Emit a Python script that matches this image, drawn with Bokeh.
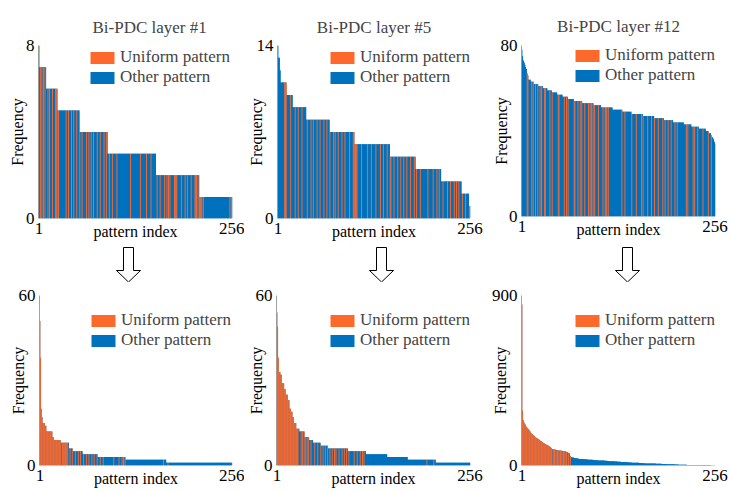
from bokeh.plotting import figure
from bokeh.layouts import column, row
from bokeh.models import Range1d, FixedTicker, Legend, LegendItem, ColumnDataSource
from bokeh.embed import file_html
from bokeh.resources import INLINE

# ---------------- data (run-length: (frequency, number of patterns)) ----------------
N_PATTERNS = 256
X_TICKS = [1, 256]

l1_before = [(8, 1), (7, 9), (6, 15), (5, 29), (4, 37), (3, 64), (2, 57), (1, 44)]
l1_before_uniform = [3, 5, 7, 9, 13, 15, 19, 23, 24, 25, 27, 37, 40, 44, 47, 51, 55, 58, 64, 67,
                     70, 73, 78, 82, 87, 90, 94, 98, 104, 122, 135, 143, 149, 157, 161, 167, 170,
                     172, 174, 180, 181, 182, 183, 189, 194, 197, 202, 207, 208, 209, 211, 213,
                     214, 215, 216, 218, 253, 255]

l5_before = [(14, 1), (13, 2), (12, 1), (11, 8), (10, 8), (9, 18), (8, 31), (7, 33), (6, 47),
             (5, 34), (4, 34), (3, 27), (2, 10), (1, 2)]
l5_before_uniform = [10, 11, 12, 18, 24, 28, 33, 40, 45, 48, 53, 57, 62, 66, 70, 75, 77, 81, 86,
                     90, 96, 101, 102, 103, 104, 105, 106, 112, 120, 125, 131, 137, 141, 146, 150,
                     151, 155, 160, 164, 168, 172, 177, 182, 185, 190, 200, 207, 212, 215, 220,
                     226, 230, 235, 238, 241, 246, 250, 255]

l12_before = [(78, 1), (75, 1), (73, 1), (72, 1), (71, 1), (70, 1), (69, 1), (67, 1), (66, 1),
              (64, 3), (63, 4), (62, 6), (61, 6), (60, 6), (59, 6), (58, 7), (57, 7), (56, 7),
              (55, 8), (54, 11), (53, 15), (52, 10), (51, 15), (50, 13), (49, 12), (48, 15),
              (47, 15), (46, 13), (45, 12), (44, 14), (43, 10), (42, 10), (41, 9), (40, 4),
              (39, 3), (38, 1), (37, 2), (36, 1), (35, 1), (34, 1)]
l12_before_uniform = [8, 9, 14, 16, 19, 22, 25, 27, 31, 32, 38, 41, 49, 50, 57, 60, 62, 70, 71,
                      75, 78, 80, 84, 89, 91, 93, 95, 97, 102, 108, 111, 112, 113, 115, 133, 137,
                      146, 152, 159, 161, 167, 172, 176, 181, 187, 190, 194, 198, 203, 206, 218,
                      220, 227, 229, 233, 240, 247, 251]

l1_after = [(51, 1), (38, 1), (20, 1), (17, 1), (15, 3), (14, 2), (12, 8), (10, 2), (9, 9),
            (8, 11), (6, 5), (5, 13), (4, 20), (3, 37), (2, 54), (1, 88)]
l1_after_uniform = [1, 2, 3, 4, 5, 6, 7, 8, 9, 10, 11, 12, 13, 14, 15, 16, 17, 18, 19, 20, 21,
                    22, 23, 24, 25, 26, 27, 28, 29, 31, 32, 33, 34, 35, 36, 37, 38, 41, 44, 48,
                    52, 55, 59, 63, 66, 70, 73, 77, 81, 85, 99, 106, 110, 112, 114, 165, 171, 256]

l5_after = [(54, 1), (49, 1), (38, 1), (33, 2), (32, 2), (29, 3), (27, 2), (25, 3), (23, 2),
            (20, 2), (19, 2), (17, 2), (15, 3), (13, 4), (12, 7), (10, 6), (9, 5), (8, 10),
            (7, 10), (6, 26), (5, 24), (4, 28), (3, 27), (2, 37), (1, 46)]
l5_after_uniform = [1, 2, 3, 4, 5, 6, 7, 8, 9, 10, 11, 12, 13, 14, 15, 16, 17, 18, 19, 20, 21,
                    22, 23, 24, 25, 26, 27, 28, 29, 33, 35, 37, 39, 41, 43, 46, 51, 55, 59, 62,
                    65, 68, 71, 74, 77, 79, 83, 87, 90, 93, 96, 103, 107, 111, 114, 116, 199, 208]

l12_after = [(853, 1), (290, 1), (240, 1), (228, 1), (220, 1), (212, 1), (205, 1), (200, 1),
             (195, 1), (190, 1), (185, 1), (180, 1), (172, 1), (168, 1), (165, 1), (162, 1),
             (158, 1), (154, 1), (150, 1), (147, 1), (144, 1), (141, 1), (139, 1), (136, 1),
             (133, 1), (130, 1), (127, 1), (124, 1), (121, 1), (118, 1), (116, 1), (114, 1),
             (111, 1), (109, 1), (107, 1), (105, 1), (102, 1), (99, 1), (96, 1), (92, 1),
             (88, 1), (87, 1), (86, 1), (85, 1), (84, 1), (83, 1), (82, 1), (81, 1),
             (80, 2), (79, 2), (78, 2), (77, 2), (76, 2),
             (74, 1), (72, 1), (70, 1), (68, 1), (66, 1), (64, 1),
             (50, 1), (45, 1), (43, 1),
             (42, 2), (40, 2), (38, 2), (37, 2), (36, 1),
             (35, 3), (34, 3), (33, 3), (32, 3), (31, 3), (30, 3), (29, 3),
             (28, 4), (27, 4), (26, 4), (25, 4), (24, 3), (23, 3),
             (22, 4), (21, 4), (20, 4), (19, 4), (18, 3), (17, 3),
             (16, 4), (15, 5), (14, 5), (13, 4), (12, 4),
             (11, 6), (10, 8), (9, 8),
             (8, 6), (7, 6), (6, 5), (5, 5),
             (4, 11), (3, 15), (2, 17), (1, 6)]
l12_after_uniform = [1, 2, 3, 4, 5, 6, 7, 8, 9, 10, 11, 12, 13, 14, 15, 16, 17, 18, 19, 20, 21,
                     22, 23, 24, 25, 26, 27, 28, 29, 30, 31, 32, 33, 34, 35, 36, 37, 38, 39, 40,
                     42, 43, 44, 45, 47, 48, 49, 51, 52, 53, 55, 56, 57, 59, 60, 62, 63, 65]

titles = ["Bi-PDC layer #1", "Bi-PDC layer #5", "Bi-PDC layer #12"]
y_max_top = [8, 14, 80]
y_max_bottom = [60, 60, 900]
X_LABEL = "pattern index"
Y_LABEL = "Frequency"
LEGEND_LABELS = ["Uniform pattern", "Other pattern"]

# ---------------- style ----------------
ORANGE = "#FD682B"
BLUE = "#0072BD"
FONT = "Liberation Serif"


def expand(runs):
    out = []
    for v, c in runs:
        out.extend([v] * c)
    return out


def panel(runs, uniform, ymax, title, lb, fw, rb, tb, fh, bb, ylab_sd, leg_xy,
          xlab_sd, title_sd=17, title_off=None):
    vals = expand(runs)
    idx = list(range(1, len(vals) + 1))
    u = set(uniform)
    src_all = ColumnDataSource(dict(x=idx, top=vals, base=[0] * len(vals)))
    src_u = ColumnDataSource(dict(x=[i for i in idx if i in u], top=[vals[i - 1] for i in idx if i in u]))
    src_o = ColumnDataSource(dict(x=[i for i in idx if i not in u], top=[vals[i - 1] for i in idx if i not in u]))

    p = figure(frame_width=fw, frame_height=fh, min_border_left=lb, min_border_right=rb,
               min_border_top=tb, min_border_bottom=bb,
               x_range=Range1d(0.5, N_PATTERNS + 0.5), y_range=Range1d(0, ymax),
               output_backend="svg", toolbar_location=None)
    p.outline_line_color = None
    p.xgrid.visible = False
    p.ygrid.visible = False
    p.background_fill_color = "white"
    p.border_fill_color = "white"

    # blue backdrop (step outline of all bars) avoids seams between sub-pixel bars
    p.varea_step(x="x", y1="base", y2="top", source=src_all, step_mode="center",
                 fill_color=BLUE)
    r_o = p.vbar(x="x", top="top", width=1.0, source=src_o, fill_color=BLUE, line_color=None)
    r_u = p.vbar(x="x", top="top", width=1.25, source=src_u, fill_color=ORANGE, line_color=None)

    p.xaxis.ticker = FixedTicker(ticks=X_TICKS)
    p.yaxis.ticker = FixedTicker(ticks=[0, ymax])
    p.xaxis.axis_label = X_LABEL
    p.yaxis.axis_label = Y_LABEL
    for ax in (p.xaxis[0], p.yaxis[0]):
        ax.major_tick_line_color = None
        ax.minor_tick_line_color = None
        ax.major_tick_out = 0
        ax.major_tick_in = 0
        ax.minor_tick_out = 0
        ax.minor_tick_in = 0
        ax.major_label_text_font = FONT
        ax.major_label_text_font_size = "17px"
        ax.major_label_text_color = "black"
        ax.axis_label_text_font = FONT
        ax.axis_label_text_font_size = "16px"
        ax.axis_label_text_font_style = "normal"
        ax.axis_label_text_color = "black"
    p.xaxis.axis_line_color = None
    p.yaxis.axis_line_color = "#8a8a8a"
    p.yaxis.axis_line_width = 0.8
    p.xaxis.major_label_standoff = 4
    p.yaxis.major_label_standoff = 4
    p.yaxis.axis_label_standoff = ylab_sd
    p.xaxis.axis_label_standoff = xlab_sd

    if title:
        p.title.text = title
        p.title.text_font = FONT
        p.title.text_font_size = "17px"
        p.title.text_font_style = "normal"
        p.title.standoff = title_sd
        if title_off is None:
            p.title.align = "center"
        else:
            p.title.align = "left"
            p.title.offset = title_off

    leg = Legend(items=[LegendItem(label=LEGEND_LABELS[0], renderers=[r_u]),
                        LegendItem(label=LEGEND_LABELS[1], renderers=[r_o])],
                 location=leg_xy, glyph_width=30, glyph_height=15, label_standoff=3,
                 spacing=0, padding=0, margin=0, label_height=20,
                 label_text_font=FONT, label_text_font_size="17px",
                 background_fill_alpha=0, border_line_color=None)
    p.add_layout(leg)
    return p


# top row: 43 + 173 + 28 = 244 ; arrows 38 ; bottom row: 13 + 170 + 28 = 211  -> 493
pA = panel(l1_before, l1_before_uniform, y_max_top[0], titles[0], 38, 194, 12, 43, 173, 28, -3, (49, 131), -14, 17, 54)
pB = panel(l5_before, l5_before_uniform, y_max_top[1], titles[1], 33, 193, 15, 43, 173, 28, -11, (50, 131), -14, 17)
pC = panel(l12_before, l12_before_uniform, y_max_top[2], titles[2], 36, 194, 15, 45, 171, 28, -12, (51, 131), -14, 19)

pD = panel(l1_after, l1_after_uniform, y_max_bottom[0], None, 39, 193, 12, 13, 170, 28, -11, (49, 115), -14)
pE = panel(l5_after, l5_after_uniform, y_max_bottom[1], None, 32, 194, 15, 13, 170, 28, -12, (51, 115), -14)
pF = panel(l12_after, l12_after_uniform, y_max_bottom[2], None, 36, 194, 15, 13, 170, 28, -20, (51, 115), -14)

# ---------------- hollow arrows between rows ----------------
ARROW_CENTERS = [128, 381, 627]
SHAFT_HALF, HEAD_HALF = 5, 12
SHAFT_TOP, HEAD_TOP, TIP = 3, 26, 37.5
pa = figure(width=730, height=38, x_range=Range1d(0, 730), y_range=Range1d(38, 0),
            output_backend="svg", toolbar_location=None, min_border=0)
pa.axis.visible = False
pa.grid.visible = False
pa.outline_line_color = None
xs, ys = [], []
for c in ARROW_CENTERS:
    xs.append([c - SHAFT_HALF, c + SHAFT_HALF, c + SHAFT_HALF, c + HEAD_HALF, c,
               c - HEAD_HALF, c - SHAFT_HALF])
    ys.append([SHAFT_TOP, SHAFT_TOP, HEAD_TOP, HEAD_TOP, TIP, HEAD_TOP, HEAD_TOP])
pa.patches(xs, ys, fill_color="white", line_color="black", line_width=1)

layout = column(row(pA, pB, pC), pa, row(pD, pE, pF))
open("out.html", "w").write(file_html(layout, INLINE))
